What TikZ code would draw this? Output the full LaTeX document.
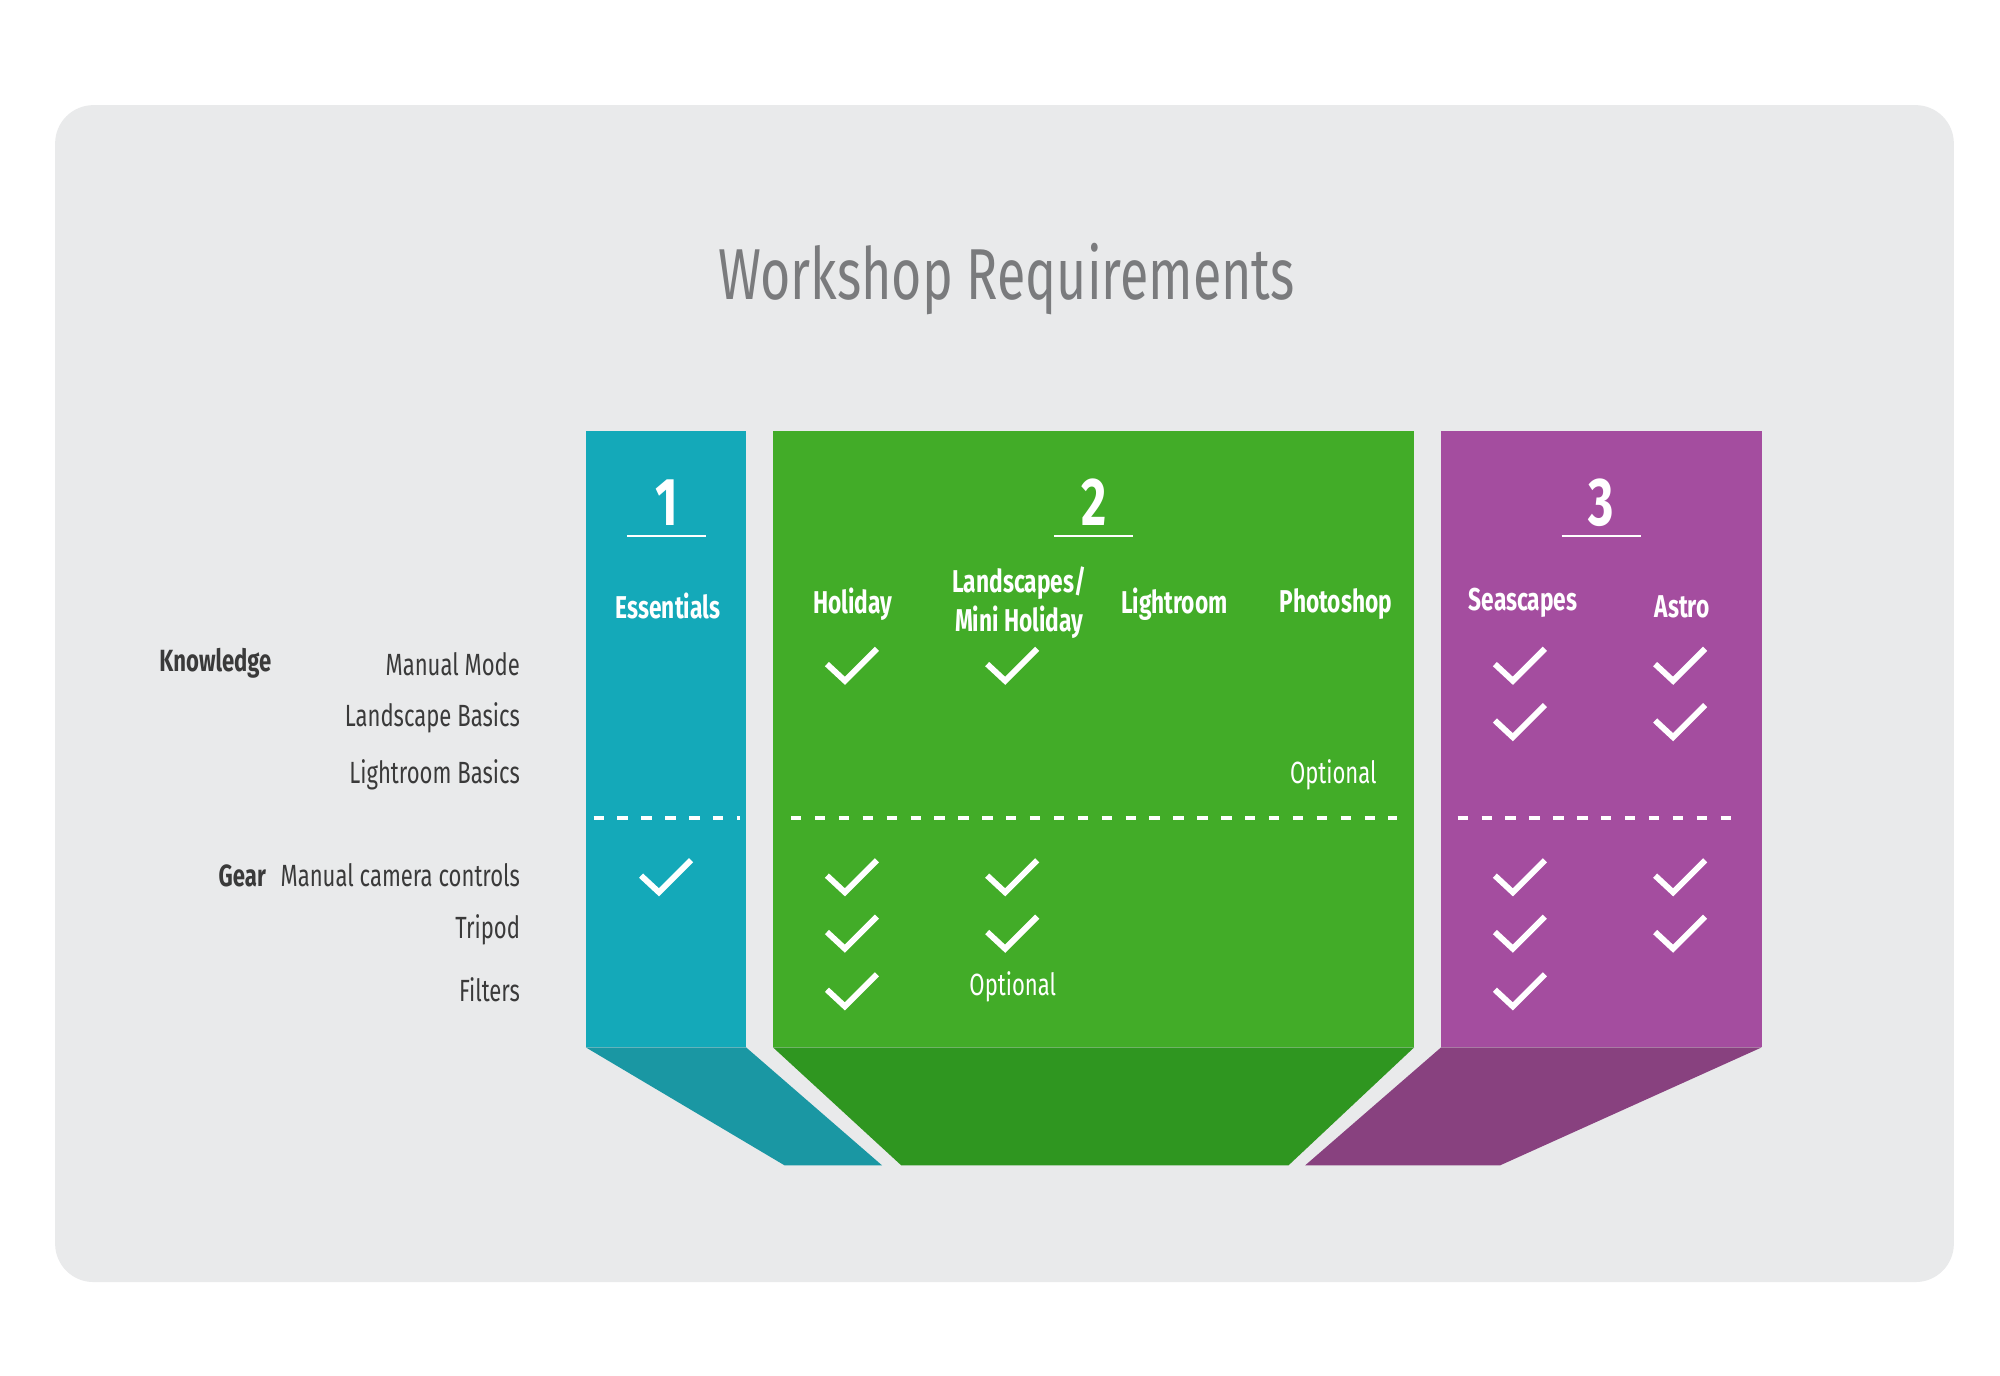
\documentclass[tikz,border=0pt]{standalone}
\usepackage{fontspec}
\setmainfont[FakeStretch=0.72]{Fira Sans}
\usetikzlibrary{positioning}
\definecolor{bgGray}{HTML}{E9EAEB}
\definecolor{teal1}{HTML}{14A9B9}
\definecolor{teal2}{HTML}{1A97A3}
\definecolor{green1}{HTML}{42AC28}
\definecolor{green2}{HTML}{2F9620}
\definecolor{purple1}{HTML}{A44D9F}
\definecolor{purple2}{HTML}{88417F}
\definecolor{titleGray}{HTML}{7A7B7D}
\definecolor{labelGray}{HTML}{3A3A3A}

\begin{document}
\begin{tikzpicture}[x=0.01cm, y=-0.01cm,
    header/.style={font=\fontsize{7}{8.5}\selectfont\bfseries, text=white, align=center},
    number/.style={font=\fontsize{15}{17}\selectfont\bfseries, text=white},
    rowlabel/.style={anchor=east, font=\fontsize{6.8}{8}\selectfont, text=labelGray},
    grouplabel/.style={font=\fontsize{6.8}{8}\selectfont\bfseries, text=labelGray},
    note/.style={font=\fontsize{6.8}{8}\selectfont, text=white},
    divider/.style={white, line width=0.9pt, dash pattern=on 2.3pt off 3pt},
    underline/.style={white, line width=0.6pt},
    check/.pic={\draw[white, line width=1.3pt] (-20,0) -- (-6,13) -- (19,-12);}
]

% Page and rounded background
\useasboundingbox (0,0) rectangle (1560,1073);
\fill[white] (0,0) rectangle (1560,1073);
\fill[bgGray, rounded corners=8.5pt] (43,82) rectangle (1524,1000);

% Title
\node[font=\fontsize{16}{18}\selectfont, text=titleGray] (title) at (785,218) {Workshop Requirements};

% Column 1
\fill[teal2] (457,817) -- (582,817) -- (688,909) -- (612,909) -- cycle;
\fill[teal1] (457,336) rectangle (582,817);
% Column 2
\fill[green2] (603,817) -- (1103,817) -- (1005,909) -- (703,909) -- cycle;
\fill[green1] (603,336) rectangle (1103,817);
% Column 3
\fill[purple2] (1124,817) -- (1374,817) -- (1170,909) -- (1018,909) -- cycle;
\fill[purple1] (1124,336) rectangle (1374,817);

% Numbers
\node[number] (num1) at (520,392) {1};
\node[number] (num2) at (853,392) {2};
\node[number] (num3) at (1249,392) {3};
\foreach \n/\x in {1/520, 2/853, 3/1249}
    \draw[underline] (\x-31,418) -- (\x+31,418);

% Column headers
\node[header] (essentials) at (521,473) {Essentials};
\node[header] (holiday) at (665,471) {Holiday};
\node[header] (landscapes) at (795,470) {Landscapes/\\Mini Holiday};
\node[header] (lightroom) at (916,471) {Lightroom};
\node[header] (photoshop) at (1042,471) {Photoshop};
\node[header] (seascapes) at (1188,470) {Seascapes};
\node[header] (astro) at (1312,473) {Astro};

% Row labels
\node[grouplabel] (knowledge) at (168,517) {Knowledge};
\node[grouplabel] (gear) at (189,683) {Gear};
\node[rowlabel] (manual) at (418,518) {Manual Mode};
\node[rowlabel] (basics) at (418,560) {Landscape Basics};
\node[rowlabel] (lrbasics) at (418,604) {Lightroom Basics};
\node[rowlabel] (camera) at (418,683) {Manual camera controls};
\node[rowlabel] (tripod) at (418,725) {Tripod};
\node[rowlabel] (filters) at (418,772) {Filters};

% Dividers
\draw[divider] (463,638) -- (577,638);
\draw[divider] (617,638) -- (1090,638);
\draw[divider] (1137,638) -- (1360,638);

% Checks
\foreach \x/\y in {520/683,
                   665/518, 665/683, 665/727, 665/772,
                   790/518, 790/683, 790/727,
                   1186/518, 1186/562, 1186/683, 1186/727, 1186/772,
                   1311/518, 1311/562, 1311/683, 1311/727}
    \pic at (\x,\y) {check};

% Optional notes
\node[note] (opt1) at (1040,604) {Optional};
\node[note] (opt2) at (790,770) {Optional};

\end{tikzpicture}
\end{document}
